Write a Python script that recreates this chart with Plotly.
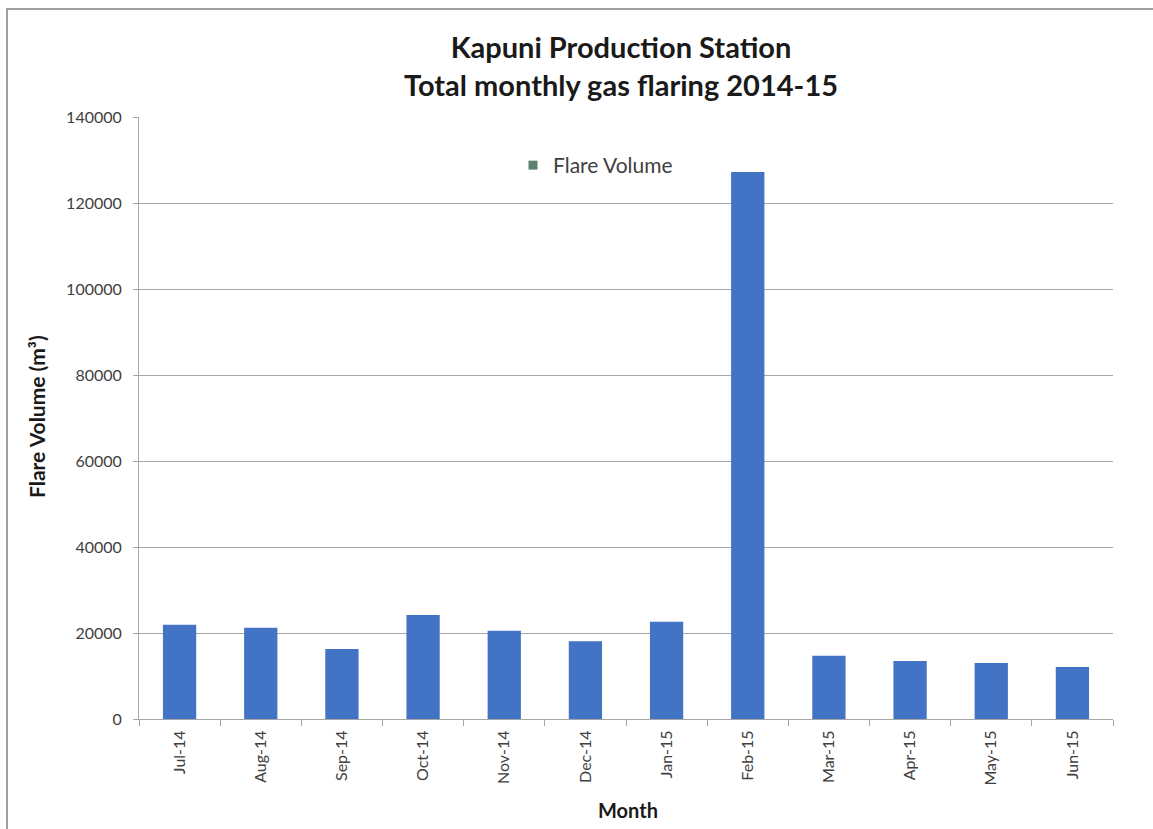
import plotly.graph_objects as go

months = ["Jul-14", "Aug-14", "Sep-14", "Oct-14", "Nov-14", "Dec-14",
          "Jan-15", "Feb-15", "Mar-15", "Apr-15", "May-15", "Jun-15"]
flare_volume = [21900, 21200, 16300, 24200, 20500, 18100,
                22600, 127200, 14700, 13500, 13000, 12100]
y_ticks = [0, 20000, 40000, 60000, 80000, 100000, 120000, 140000]

# body margin is removed in the page, so figure coordinates = screen coordinates
W, H = 1153, 829
L, T = 139, 117
R = W - 1113
B = H - 719
PW = W - L - R
PH = H - T - B


def px_x(x):
    return (x - L) / PW


def px_y(y):
    return 1 - (y - T) / PH


fig = go.Figure()
fig.add_trace(go.Bar(
    x=months, y=flare_volume, name="Flare Volume",
    marker=dict(color="#4373c4", line=dict(width=0)),
    showlegend=False,
))
fig.add_trace(go.Scatter(
    x=[None], y=[None], mode="markers", name="Flare Volume",
    marker=dict(symbol="square", color="#5e8272", size=9),
))

fig.update_layout(
    width=W, height=H,
    margin=dict(l=L, r=R, t=T, b=B, autoexpand=False),
    paper_bgcolor="white", plot_bgcolor="white",
    font=dict(family="Lato, Open Sans, sans-serif", color="#404040"),
    bargap=0.59,
    showlegend=True,
    legend=dict(x=px_x(513), y=px_y(145),
                xanchor="left", yanchor="top", bgcolor="rgba(0,0,0,0)",
                font=dict(size=21, color="#404040"), itemwidth=30),
    xaxis=dict(
        type="category", tickangle=-90, showgrid=False, automargin=False,
        showline=True, linecolor="#a6a6a6", linewidth=1,
        ticks="outside", ticklen=6, tickcolor="#a6a6a6",
        tickson="boundaries", ticklabelstandoff=4,
        tickfont=dict(size=16, color="#404040"),
    ),
    yaxis=dict(
        range=[0, 140000], tickvals=y_ticks, automargin=False,
        ticktext=[str(v) for v in y_ticks],
        showgrid=True, gridcolor="#a6a6a6", gridwidth=1,
        showline=True, linecolor="#a6a6a6", linewidth=1,
        ticks="outside", ticklen=5, tickcolor="#a6a6a6",
        ticklabelstandoff=8,
        tickfont=dict(size=16, color="#404040"), zeroline=False,
    ),
    annotations=[
        dict(text="<b>Kapuni Production Station</b><br><b>Total monthly gas flaring 2014-15</b>",
             x=px_x(621), y=px_y(27), xref="paper", yref="paper",
             xanchor="center", yanchor="top", showarrow=False, align="center",
             font=dict(size=29, color="#1a1a1a")),
        dict(text="<b>Month</b>", x=px_x(628), y=px_y(810), xref="paper", yref="paper",
             xanchor="center", yanchor="middle", showarrow=False,
             font=dict(size=20, color="#1a1a1a")),
        dict(text="<b>Flare Volume (m³)</b>", x=px_x(37), y=px_y(417), xref="paper", yref="paper",
             xanchor="center", yanchor="middle", showarrow=False, textangle=-90,
             font=dict(size=21, color="#1a1a1a")),
    ],
    shapes=[
        dict(type="rect", xref="paper", yref="paper",
             x0=px_x(7), x1=px_x(1175),
             y0=px_y(860), y1=px_y(9),
             line=dict(color="#a0a0a0", width=2), fillcolor="rgba(0,0,0,0)", layer="below"),
    ],
)

fig.write_html(
    "out.html",
    config={"displayModeBar": False},
    post_script="document.body.style.margin='0';document.body.style.overflow='hidden';",
)
